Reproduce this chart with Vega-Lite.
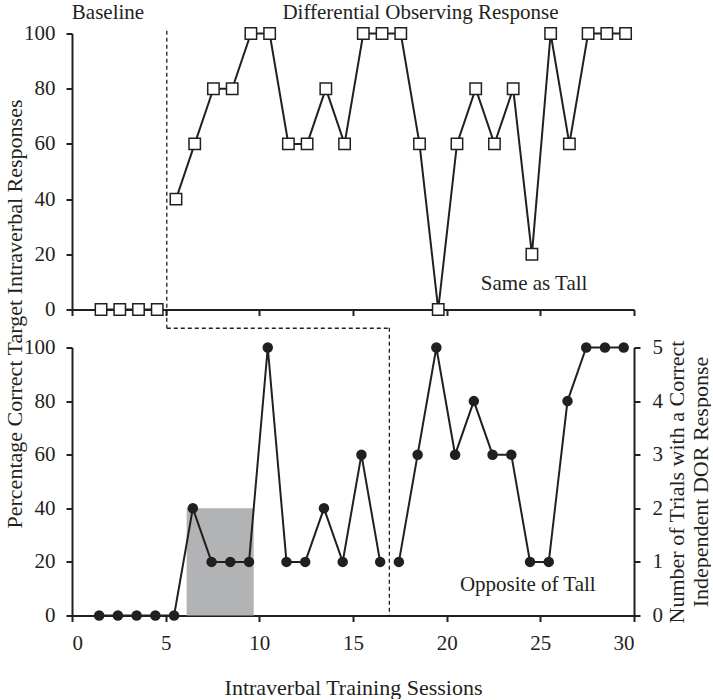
{
  "$schema": "https://vega.github.io/schema/vega-lite/v6.json",
  "background": "white",
  "padding": {"left": 2, "top": 1.5, "right": 0, "bottom": 0},
  "spacing": 38,
  "bounds": "flush",
  "config": {
    "view": {"stroke": null},
    "font": "Liberation Serif",
    "axis": {
      "grid": false,
      "domainColor": "#231f20",
      "domainWidth": 2,
      "tickColor": "#231f20",
      "tickWidth": 2,
      "tickSize": 6,
      "labelFont": "Liberation Serif",
      "labelFontSize": 21,
      "labelColor": "#231f20",
      "titleFont": "Liberation Serif",
      "titleFontSize": 22,
      "titleFontWeight": "normal",
      "titleColor": "#231f20"
    },
    "text": {"font": "Liberation Serif", "fontSize": 21, "color": "#231f20"}
  },
  "datasets": {
    "topSeries": [
      {"x": 1.55, "y": 0, "phase": "Baseline"},
      {"x": 2.55, "y": 0, "phase": "Baseline"},
      {"x": 3.55, "y": 0, "phase": "Baseline"},
      {"x": 4.55, "y": 0, "phase": "Baseline"},
      {"x": 5.55, "y": 40, "phase": "DOR"},
      {"x": 6.55, "y": 60, "phase": "DOR"},
      {"x": 7.55, "y": 80, "phase": "DOR"},
      {"x": 8.55, "y": 80, "phase": "DOR"},
      {"x": 9.55, "y": 100, "phase": "DOR"},
      {"x": 10.55, "y": 100, "phase": "DOR"},
      {"x": 11.55, "y": 60, "phase": "DOR"},
      {"x": 12.55, "y": 60, "phase": "DOR"},
      {"x": 13.55, "y": 80, "phase": "DOR"},
      {"x": 14.55, "y": 60, "phase": "DOR"},
      {"x": 15.55, "y": 100, "phase": "DOR"},
      {"x": 16.55, "y": 100, "phase": "DOR"},
      {"x": 17.55, "y": 100, "phase": "DOR"},
      {"x": 18.55, "y": 60, "phase": "DOR"},
      {"x": 19.55, "y": 0, "phase": "DOR"},
      {"x": 20.55, "y": 60, "phase": "DOR"},
      {"x": 21.55, "y": 80, "phase": "DOR"},
      {"x": 22.55, "y": 60, "phase": "DOR"},
      {"x": 23.55, "y": 80, "phase": "DOR"},
      {"x": 24.55, "y": 20, "phase": "DOR"},
      {"x": 25.55, "y": 100, "phase": "DOR"},
      {"x": 26.55, "y": 60, "phase": "DOR"},
      {"x": 27.55, "y": 100, "phase": "DOR"},
      {"x": 28.55, "y": 100, "phase": "DOR"},
      {"x": 29.55, "y": 100, "phase": "DOR"}
    ],
    "bottomSeries": [
      {"x": 1.45, "y": 0, "phase": "A"},
      {"x": 2.45, "y": 0, "phase": "A"},
      {"x": 3.45, "y": 0, "phase": "A"},
      {"x": 4.45, "y": 0, "phase": "A"},
      {"x": 5.45, "y": 0, "phase": "A"},
      {"x": 6.45, "y": 40, "phase": "A"},
      {"x": 7.45, "y": 20, "phase": "A"},
      {"x": 8.45, "y": 20, "phase": "A"},
      {"x": 9.45, "y": 20, "phase": "A"},
      {"x": 10.45, "y": 100, "phase": "A"},
      {"x": 11.45, "y": 20, "phase": "A"},
      {"x": 12.45, "y": 20, "phase": "A"},
      {"x": 13.45, "y": 40, "phase": "A"},
      {"x": 14.45, "y": 20, "phase": "A"},
      {"x": 15.45, "y": 60, "phase": "A"},
      {"x": 16.45, "y": 20, "phase": "A"},
      {"x": 17.45, "y": 20, "phase": "B"},
      {"x": 18.45, "y": 60, "phase": "B"},
      {"x": 19.45, "y": 100, "phase": "B"},
      {"x": 20.45, "y": 60, "phase": "B"},
      {"x": 21.45, "y": 80, "phase": "B"},
      {"x": 22.45, "y": 60, "phase": "B"},
      {"x": 23.45, "y": 60, "phase": "B"},
      {"x": 24.45, "y": 20, "phase": "B"},
      {"x": 25.45, "y": 20, "phase": "B"},
      {"x": 26.45, "y": 80, "phase": "B"},
      {"x": 27.45, "y": 100, "phase": "B"},
      {"x": 28.45, "y": 100, "phase": "B"},
      {"x": 29.45, "y": 100, "phase": "B"}
    ],
    "topDashes": [
      {"x": 5.06, "x2": 5.06, "y": 101, "y2": -6.8},
      {"x": 5.06, "x2": 16.94, "y": -6.8, "y2": -6.8}
    ],
    "bottomDashes": [
      {"x": 16.94, "x2": 16.94, "y": 107.4, "y2": 0}
    ],
    "topText": [
      {"x": 1.92, "y": 107.5, "label": "Baseline"},
      {"x": 18.6, "y": 107.5, "label": "Differential Observing Response"},
      {"x": 24.67, "y": 9.1, "label": "Same as Tall"}
    ],
    "bottomText": [
      {"x": 24.33, "y": 11.2, "label": "Opposite of Tall"}
    ],
    "shade": [
      {"x": 6.12, "x2": 9.7, "trials": 0, "trials2": 2}
    ]
  },
  "vconcat": [
    {
      "width": 562,
      "height": 276,
      "encoding": {
        "x": {
          "field": "x",
          "type": "quantitative",
          "scale": {"domain": [0, 30], "nice": false, "zero": false},
          "axis": {"values": [0, 5, 10, 15, 20, 25, 30], "labels": false, "title": null}
        },
        "y": {
          "field": "y",
          "type": "quantitative",
          "scale": {"domain": [0, 100], "nice": false},
          "axis": {
            "values": [0, 20, 40, 60, 80, 100],
            "labelPadding": 11,
            "title": "Percentage Correct Target Intraverbal Responses",
            "titleAngle": 270,
            "titleX": -58,
            "titleY": 280,
            "titleAlign": "center",
            "titleBaseline": "middle"
          }
        }
      },
      "layer": [
        {
          "data": {"name": "topDashes"},
          "mark": {"type": "rule", "strokeDash": [4, 3], "strokeWidth": 1.3, "color": "#231f20"},
          "encoding": {"x2": {"field": "x2"}, "y2": {"field": "y2"}}
        },
        {
          "data": {"name": "topSeries"},
          "mark": {"type": "line", "color": "#231f20", "strokeWidth": 2},
          "encoding": {"detail": {"field": "phase"}}
        },
        {
          "data": {"name": "topSeries"},
          "mark": {"type": "point", "shape": "square", "filled": true, "fill": "white", "stroke": "#231f20", "strokeWidth": 1.5, "size": 130, "opacity": 1},
          "encoding": {}
        },
        {
          "data": {"name": "topText"},
          "mark": {"type": "text", "align": "center", "baseline": "middle"},
          "encoding": {"text": {"field": "label"}}
        }
      ]
    },
    {
      "width": 562,
      "height": 268,
      "layer": [
        {
          "data": {"name": "shade"},
          "mark": {"type": "rect", "color": "#b2b3b5"},
          "encoding": {
            "x": {
              "field": "x",
              "type": "quantitative",
              "scale": {"domain": [0, 30], "nice": false, "zero": false},
              "axis": {
                "values": [0, 5, 10, 15, 20, 25, 30],
                "labelPadding": 11,
                "labelBaseline": "top",
                "encode": {"labels": {"update": {
                  "dx": {"signal": "datum.value === 0 ? 0 : (datum.value === 30 ? -20 : 8)"},
                  "dy": {"signal": "(datum.value === 0 || datum.value === 30) ? 7 : 0"}
                }}},
                "title": "Intraverbal Training Sessions",
                "titleY": 72,
                "titleBaseline": "middle"
              }
            },
            "x2": {"field": "x2"},
            "y": {
              "field": "trials",
              "type": "quantitative",
              "scale": {"domain": [0, 5], "nice": false},
              "axis": {
                "orient": "right",
                "values": [0, 1, 2, 3, 4, 5],
                "labelPadding": 12,
                "title": ["Number of Trials with a Correct", "Independent DOR Response"],
                "titleAngle": 270,
                "titleX": 32,
                "titleY": 134,
                "titleAlign": "center",
                "titleBaseline": "top",
                "titleLineHeight": 24
              }
            },
            "y2": {"field": "trials2"}
          }
        },
        {
          "encoding": {
            "x": {
              "field": "x",
              "type": "quantitative",
              "scale": {"domain": [0, 30], "nice": false, "zero": false},
              "axis": {
                "values": [0, 5, 10, 15, 20, 25, 30],
                "labelPadding": 11,
                "labelBaseline": "top",
                "encode": {"labels": {"update": {
                  "dx": {"signal": "datum.value === 0 ? 0 : (datum.value === 30 ? -20 : 8)"},
                  "dy": {"signal": "(datum.value === 0 || datum.value === 30) ? 7 : 0"}
                }}},
                "title": "Intraverbal Training Sessions",
                "titleY": 72,
                "titleBaseline": "middle"
              }
            },
            "y": {
              "field": "y",
              "type": "quantitative",
              "scale": {"domain": [0, 100], "nice": false},
              "axis": {
                "orient": "left",
                "values": [0, 20, 40, 60, 80, 100],
                "labelPadding": 11,
                "title": null
              }
            }
          },
          "layer": [
            {
              "data": {"name": "bottomDashes"},
              "mark": {"type": "rule", "strokeDash": [4, 3], "strokeWidth": 1.3, "color": "#231f20"},
              "encoding": {"x2": {"field": "x2"}, "y2": {"field": "y2"}}
            },
            {
              "data": {"name": "bottomSeries"},
              "mark": {"type": "line", "color": "#231f20", "strokeWidth": 2},
              "encoding": {"detail": {"field": "phase"}}
            },
            {
              "data": {"name": "bottomSeries"},
              "mark": {"type": "point", "shape": "circle", "filled": true, "color": "#231f20", "size": 110, "opacity": 1},
              "encoding": {}
            },
            {
              "data": {"name": "bottomText"},
              "mark": {"type": "text", "align": "center", "baseline": "middle"},
              "encoding": {"text": {"field": "label"}}
            }
          ]
        }
      ],
      "resolve": {"scale": {"y": "independent"}, "axis": {"y": "independent"}}
    }
  ]
}
